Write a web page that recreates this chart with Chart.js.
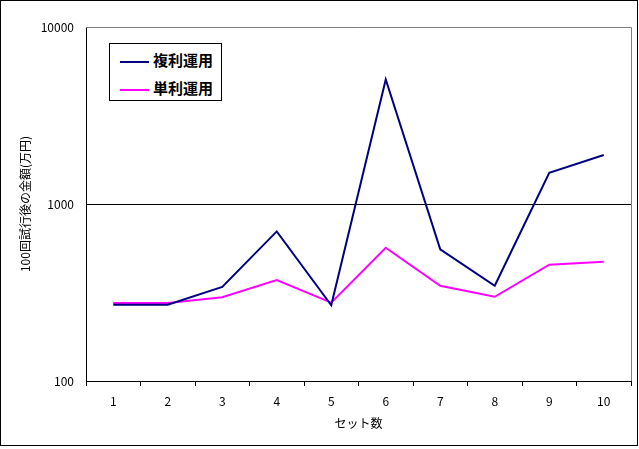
<!DOCTYPE html>
<html>
<head>
<meta charset="utf-8">
<script src="https://cdn.jsdelivr.net/npm/chart.js@4"></script>
<style>
  body { margin: 0; background: #fff; }
  #wrap { position: relative; width: 639px; height: 449px; }
  #legend {
    position: absolute; left: 109px; top: 43px; width: 111px; height: 56px;
    border: 1px solid #000; background: #fff;
    font-family: "Noto Sans CJK JP", sans-serif; font-weight: bold; font-size: 15px;
  }
  .item { position: absolute; left: 10px; height: 20px; line-height: 20px; white-space: nowrap; }
  .item span.ln { display: inline-block; width: 29px; height: 2px; vertical-align: middle; margin-right: 4px; }
</style>
</head>
<body>
<div id="wrap">
  <canvas id="myChart" width="639" height="449"></canvas>
  <div id="legend"></div>
</div>
<script>
var sets = ["1", "2", "3", "4", "5", "6", "7", "8", "9", "10"];
var compound = [270, 270, 340, 700, 268, 5050, 555, 345, 1500, 1890];
var simple = [276, 276, 297, 372, 277, 566, 345, 299, 454, 472];
var yTicks = [100, 1000, 10000];
var names = ["複利運用", "単利運用"];
var colors = ["#000080", "#ff00ff"];

var font = "'Noto Sans CJK JP', sans-serif";

// outer frame and the grey top/right edges of the plot
var frame = {
  id: "frame",
  beforeDraw: function (chart) {
    var c = chart.ctx;
    c.save();
    c.fillStyle = "#fff";
    c.fillRect(0, 0, chart.width, chart.height);
    c.strokeStyle = "#000";
    c.lineWidth = 1;
    c.strokeRect(0.5, 0.5, 637, 445);
    c.restore();
  },
  afterDatasetsDraw: function (chart) {
    var c = chart.ctx, a = chart.chartArea;
    c.save();
    c.strokeStyle = "#808080";
    c.lineWidth = 1;
    c.beginPath();
    c.moveTo(a.left, a.top + 0.5);
    c.lineTo(a.right + 0.5, a.top + 0.5);
    c.lineTo(a.right + 0.5, a.bottom);
    c.stroke();
    c.restore();
  }
};

var ctx = document.getElementById("myChart").getContext("2d");
var myChart = new Chart(ctx, {
  type: "line",
  data: {
    labels: sets,
    datasets: [
      { label: names[0], data: compound, borderColor: colors[0], borderWidth: 2, pointRadius: 0, tension: 0 },
      { label: names[1], data: simple, borderColor: colors[1], borderWidth: 2, pointRadius: 0, tension: 0 }
    ]
  },
  options: {
    responsive: false,
    animation: false,
    layout: { padding: { top: 27, right: 8, left: 0, bottom: 0 } },
    plugins: { legend: { display: false }, tooltip: { enabled: false } },
    scales: {
      x: {
        offset: true,
        grid: { offset: true, drawOnChartArea: false, color: "#000", tickLength: 5 },
        border: { color: "#000" },
        ticks: { color: "#000", font: { family: font, size: 12 }, padding: 8, maxRotation: 0 },
        title: { display: true, text: "セット数", color: "#000", font: { family: font, size: 12 }, padding: { top: 2, bottom: 18 } },
        afterFit: function (s) { s.height = 68; }
      },
      y: {
        type: "logarithmic",
        min: 100,
        max: 10000,
        afterBuildTicks: function (s) { s.ticks = yTicks.map(function (v) { return { value: v }; }); },
        grid: {
          color: function (c) { return c.tick && c.tick.value === 1000 ? "#000" : "rgba(0,0,0,0)"; },
          drawTicks: false
        },
        border: { color: "#000" },
        ticks: {
          color: "#000", font: { family: font, size: 12 }, padding: 12,
          callback: function (v) { return String(v); }
        },
        title: { display: true, text: "100回試行後の金額(万円)", color: "#000", font: { family: font, size: 12 }, padding: { top: 18 } },
        afterFit: function (s) { s.width = 86; }
      }
    }
  },
  plugins: [frame]
});

var lg = document.getElementById("legend");
names.forEach(function (n, i) {
  var d = document.createElement("div");
  d.className = "item";
  d.style.top = (i === 0 ? 6 : 34) + "px";
  d.innerHTML = '<span class="ln" style="background:' + colors[i] + '"></span>' + n;
  lg.appendChild(d);
});
</script>
</body>
</html>
